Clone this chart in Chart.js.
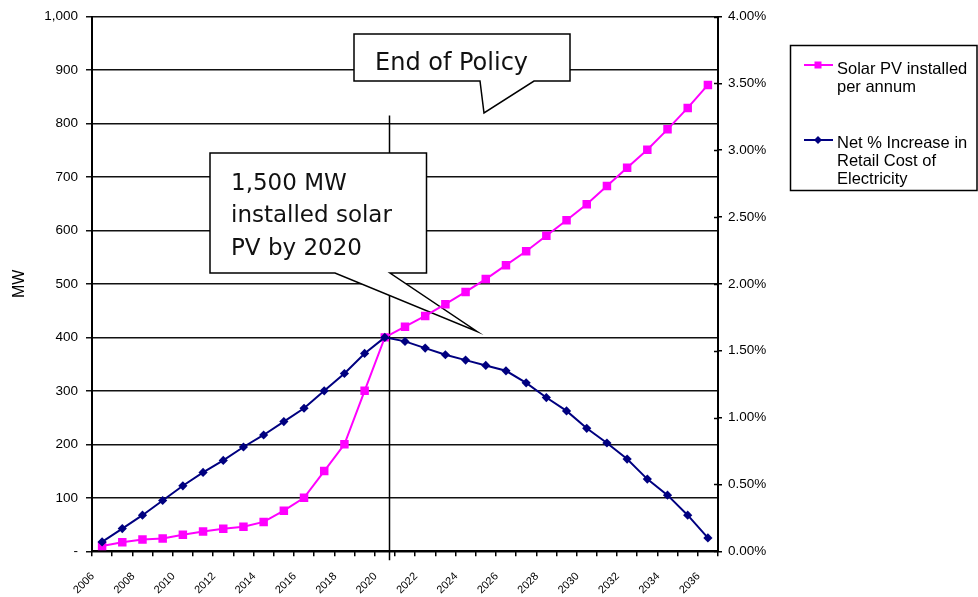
<!DOCTYPE html>
<html>
<head>
<meta charset="utf-8">
<title>Solar PV installed vs retail cost of electricity</title>
<script src="https://cdn.jsdelivr.net/npm/chart.js@4.4.0/dist/chart.umd.min.js"></script>
<style>
  html, body { margin: 0; padding: 0; background: #fff; }
  #chartCanvas { display: block; }
</style>
</head>
<body>
<canvas id="chartCanvas" width="978" height="597"></canvas>
<script>
// yearly series, 2006 - 2036
const years = [2006, 2007, 2008, 2009, 2010, 2011, 2012, 2013, 2014, 2015, 2016,
               2017, 2018, 2019, 2020, 2021, 2022, 2023, 2024, 2025, 2026, 2027,
               2028, 2029, 2030, 2031, 2032, 2033, 2034, 2035, 2036];

// MW installed each year (left axis)
const solarMW = [10, 17, 22, 24, 31, 37, 42, 46, 55, 76, 100, 150, 200, 300, 400,
                 420, 440, 462, 485, 509, 535, 561, 590, 619, 649, 683, 717, 751, 789, 829, 872];

// net % increase in retail cost (right axis, in percent)
const retailIncrease = [0.07, 0.17, 0.27, 0.38, 0.49, 0.59, 0.68, 0.78, 0.87, 0.97, 1.07,
                        1.20, 1.33, 1.48, 1.60, 1.57, 1.52, 1.47, 1.43, 1.39, 1.35, 1.26,
                        1.15, 1.05, 0.92, 0.81, 0.69, 0.54, 0.42, 0.27, 0.10];

const seriesNames = [['Solar PV installed', 'per annum'],
                     ['Net % Increase in', 'Retail Cost of', 'Electricity']];

const policyEndYear = 2020;
const policyText = ['End of Policy'];
const targetText = ['1,500 MW', 'installed solar', 'PV by 2020'];

const MAGENTA = '#ff00ff';
const NAVY = '#000080';

// box with a pointer tail on its bottom edge
function drawCallout(ctx, c) {
  ctx.beginPath();
  ctx.moveTo(c.left, c.top);
  ctx.lineTo(c.right, c.top);
  ctx.lineTo(c.right, c.bottom);
  ctx.lineTo(c.tail[1], c.bottom);
  ctx.lineTo(c.tip[0], c.tip[1]);
  ctx.lineTo(c.tail[0], c.bottom);
  ctx.lineTo(c.left, c.bottom);
  ctx.closePath();
  ctx.fillStyle = '#fff';
  ctx.fill();
  ctx.strokeStyle = '#000';
  ctx.lineWidth = 1.5;
  ctx.stroke();
  ctx.fillStyle = '#111';
  ctx.font = c.font;
  ctx.textAlign = 'left';
  ctx.textBaseline = 'alphabetic';
  c.lines.forEach((t, i) => ctx.fillText(t, c.textX, c.baseline + i * c.lineGap));
}

const annotations = {
  id: 'annotations',
  beforeDatasetsDraw(chart) {
    const ctx = chart.ctx;
    const xs = chart.scales.x, ys = chart.scales.y;
    const lx = Math.round(xs.getPixelForValue(years.indexOf(policyEndYear))) + 4.5;
    ctx.save();
    ctx.strokeStyle = '#000';
    ctx.lineWidth = 1.5;
    ctx.beginPath();
    ctx.moveTo(lx, ys.getPixelForValue(815));
    ctx.lineTo(lx, ys.bottom + 9);
    ctx.stroke();

    drawCallout(ctx, {
      left: 354, top: 34, right: 570, bottom: 81,
      tail: [480, 534], tip: [484, 113],
      lines: policyText, font: '24px "DejaVu Sans"',
      textX: 375, baseline: 70, lineGap: 0
    });
    drawCallout(ctx, {
      left: 210, top: 153, right: 426.5, bottom: 273,
      tail: [335, 390], tip: [477, 331.5],
      lines: targetText, font: '23px "DejaVu Sans"',
      textX: 231, baseline: 189.5, lineGap: 32.8
    });
    ctx.restore();
  },
  afterDraw(chart) {
    const ctx = chart.ctx;
    const xs = chart.scales.x, y1 = chart.scales.y1;
    ctx.save();

    // year labels, every second year, slanted
    ctx.fillStyle = '#000';
    ctx.font = '11px Arial, "Liberation Sans"';
    ctx.textAlign = 'center';
    ctx.textBaseline = 'middle';
    years.forEach((yr, i) => {
      if (i % 2 !== 0) return;
      const px = xs.getPixelForValue(i);
      ctx.save();
      ctx.translate(px - 18, xs.top + 32);
      ctx.rotate(-Math.PI / 4);
      ctx.fillText(String(yr), 0, 0);
      ctx.restore();
    });

    // right axis tick marks cross the axis line
    ctx.strokeStyle = '#000';
    ctx.lineWidth = 1.5;
    y1.ticks.forEach(t => {
      const py = Math.round(y1.getPixelForValue(t.value)) + 0.5;
      ctx.beginPath();
      ctx.moveTo(y1.left - 4, py);
      ctx.lineTo(y1.left, py);
      ctx.stroke();
    });

    // legend box
    ctx.lineWidth = 1.5;
    ctx.strokeRect(790.5, 45.5, 186.5, 145);
    ctx.font = '16.5px Arial, "Liberation Sans"';
    ctx.textAlign = 'left';
    ctx.textBaseline = 'alphabetic';
    ctx.fillStyle = '#000';

    // solar entry
    ctx.strokeStyle = MAGENTA;
    ctx.lineWidth = 2;
    ctx.beginPath(); ctx.moveTo(804, 65); ctx.lineTo(833, 65); ctx.stroke();
    ctx.fillStyle = MAGENTA;
    ctx.fillRect(814.5, 61.5, 7, 7);
    ctx.fillStyle = '#000';
    seriesNames[0].forEach((t, i) => ctx.fillText(t, 837, 73.5 + i * 18.4));

    // retail cost entry
    ctx.strokeStyle = NAVY;
    ctx.beginPath(); ctx.moveTo(804, 140); ctx.lineTo(833, 140); ctx.stroke();
    ctx.fillStyle = NAVY;
    ctx.beginPath();
    ctx.moveTo(818, 136); ctx.lineTo(822, 140); ctx.lineTo(818, 144); ctx.lineTo(814, 140);
    ctx.closePath(); ctx.fill();
    ctx.fillStyle = '#000';
    seriesNames[1].forEach((t, i) => ctx.fillText(t, 837, 147.5 + i * 18.4));

    ctx.restore();
  }
};

const tickFont = { family: 'Arial, "Liberation Sans"', size: 13.5 };

new Chart(document.getElementById('chartCanvas').getContext('2d'), {
  type: 'line',
  data: {
    labels: years,
    datasets: [
      {
        label: seriesNames[0].join(' '),
        data: solarMW,
        yAxisID: 'y',
        order: 1,
        borderColor: MAGENTA,
        backgroundColor: MAGENTA,
        borderWidth: 2,
        pointStyle: 'rect',
        pointRadius: 6,
        pointBorderWidth: 0,
        tension: 0
      },
      {
        label: seriesNames[1].join(' '),
        data: retailIncrease,
        yAxisID: 'y1',
        order: 0,
        borderColor: NAVY,
        backgroundColor: NAVY,
        borderWidth: 2,
        pointStyle: 'rectRot',
        pointRadius: 4.6,
        pointBorderWidth: 0,
        tension: 0
      }
    ]
  },
  options: {
    responsive: false,
    devicePixelRatio: 1,
    animation: false,
    layout: { padding: { top: 16.5, right: 200, left: 0, bottom: 0 } },
    plugins: {
      legend: { display: false },
      tooltip: { enabled: false }
    },
    scales: {
      x: {
        type: 'category',
        offset: true,
        grid: { offset: true, drawOnChartArea: false, drawTicks: true, tickLength: 5, color: '#000', lineWidth: 1.5 },
        border: { display: true, color: '#000', width: 2 },
        ticks: { display: false, autoSkip: false },
        afterFit(scale) { scale.height = 45.7; }
      },
      y: {
        position: 'left',
        min: 0,
        max: 1000,
        ticks: {
          stepSize: 100,
          color: '#000',
          font: tickFont,
          padding: 8,
          callback: v => v === 0 ? '-' : v.toLocaleString('en-US')
        },
        grid: { color: '#111', lineWidth: 1.5, tickLength: 6 },
        border: { display: true, color: '#000', width: 2 },
        title: {
          display: true,
          text: 'MW',
          color: '#000',
          font: { family: 'Arial, "Liberation Sans"', size: 16 },
          padding: { top: 10, bottom: 0 }
        },
        afterFit(scale) { scale.width = 92; }
      },
      y1: {
        position: 'right',
        min: 0,
        max: 4,
        ticks: {
          stepSize: 0.5,
          color: '#000',
          font: tickFont,
          padding: 6,
          callback: v => v.toFixed(2) + '%'
        },
        grid: { drawOnChartArea: false, color: '#000', lineWidth: 1.5, tickLength: 4 },
        border: { display: true, color: '#000', width: 2 },
        afterFit(scale) { scale.width = 60; }
      }
    }
  },
  plugins: [annotations]
});
</script>
</body>
</html>
